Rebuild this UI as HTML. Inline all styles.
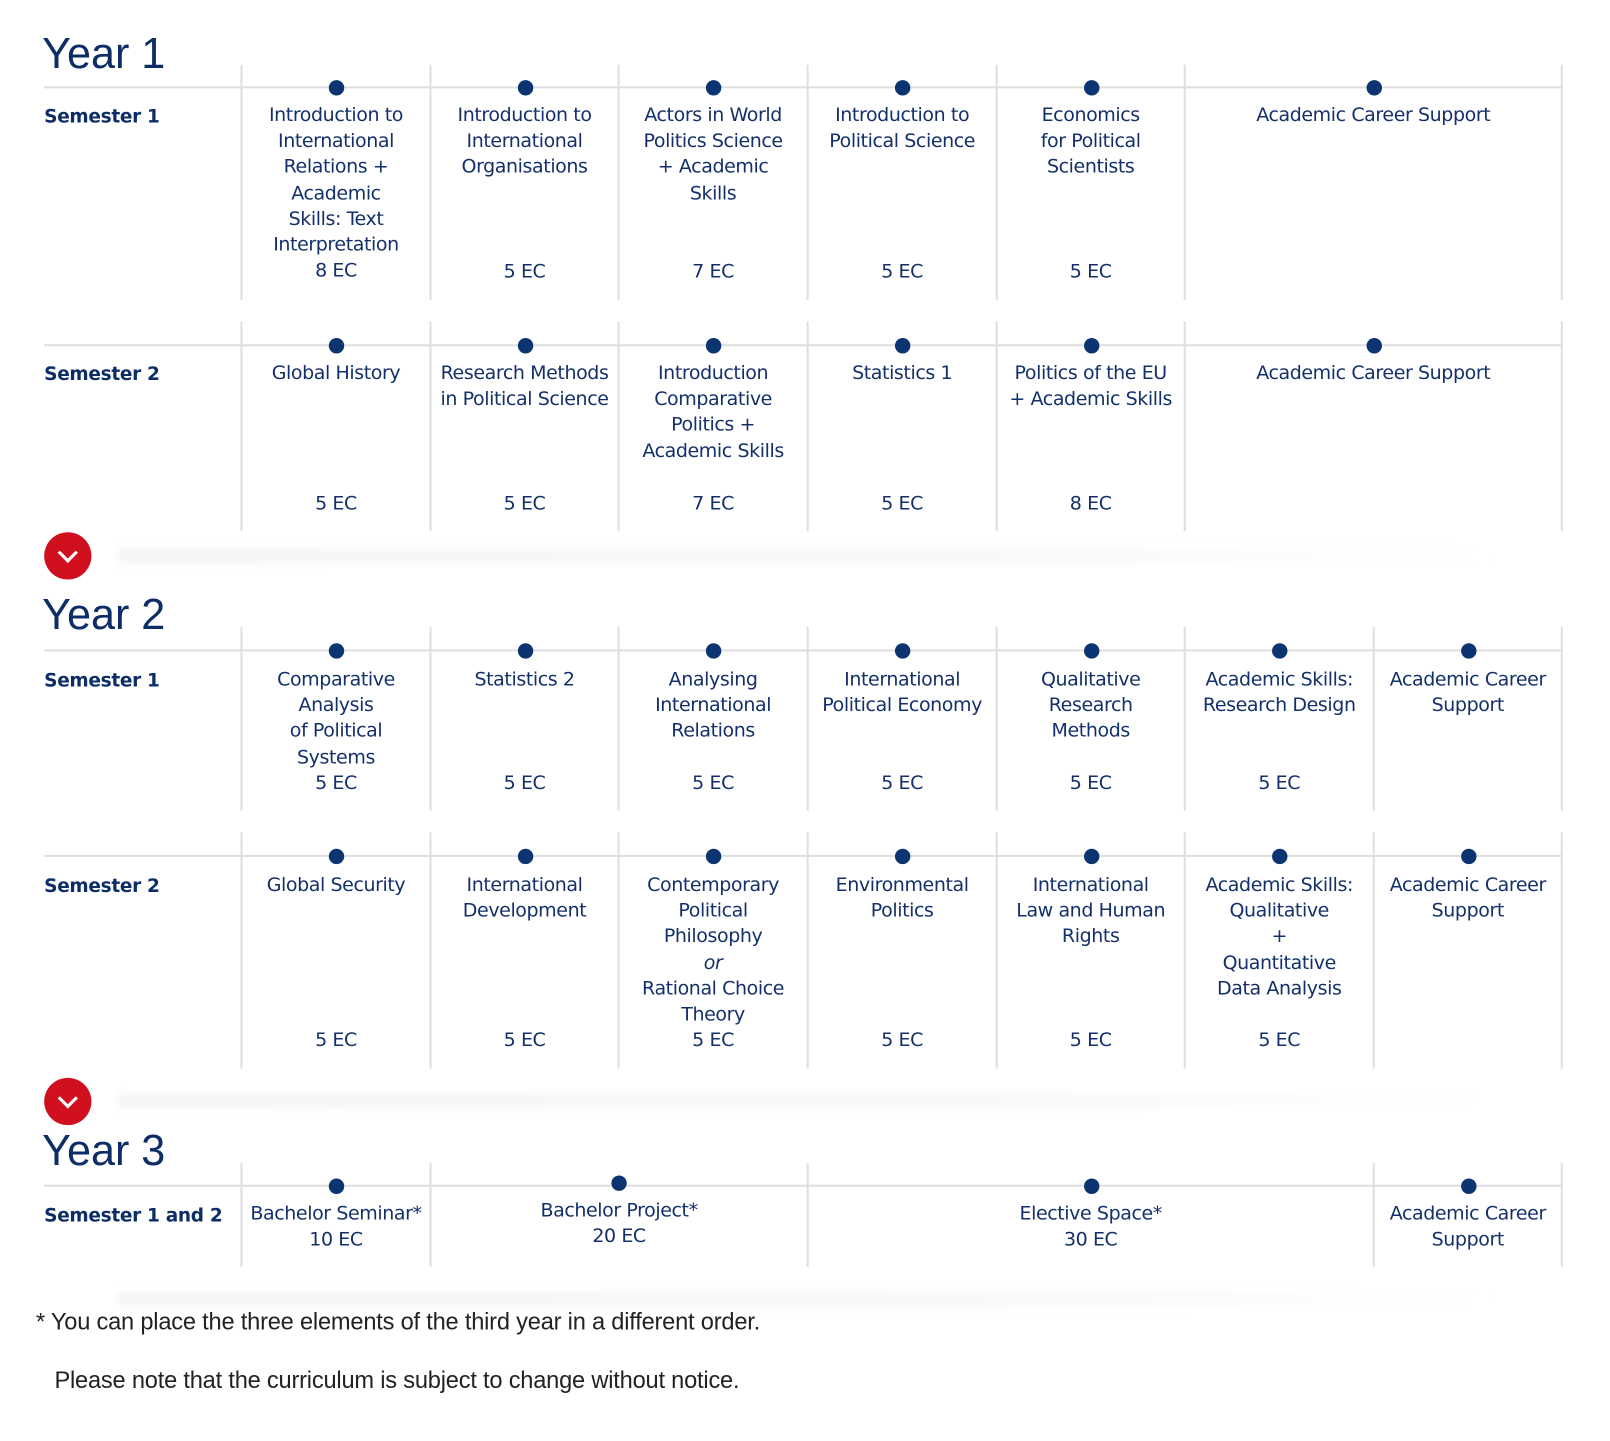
<!DOCTYPE html>
<html><head><meta charset="utf-8"><style>
html,body{margin:0;padding:0;background:#fff;width:1610px;height:1441px;overflow:hidden}
#w{position:absolute;left:0;top:0;width:1567px;height:1402px;transform:scale(1.0275);transform-origin:0 0;font-family:"DejaVu Sans","Liberation Sans",sans-serif;color:#13306a}
.y{position:absolute;left:41px;font-size:42px;line-height:42px;color:#0d2d66;font-family:"Liberation Sans",sans-serif}
.s{position:absolute;left:43px;font-size:18px;font-weight:bold;color:#0d2d66;font-family:"DejaVu Sans",sans-serif;letter-spacing:-0.3px}
.h{position:absolute;left:43px;width:1477px;height:2px;background:#dfdfdf}
.v{position:absolute;width:2px;background:#dfdfdf}
.d{position:absolute;width:15px;height:15px;border-radius:50%;background:#0b3470;margin:-7px 0 0 -7px}
.c{position:absolute;text-align:center;font-size:18.5px;line-height:25.2px;letter-spacing:-0.4px;transform:translateY(-11px)}
.sh{position:absolute;left:115px;width:1340px;height:14px;background:linear-gradient(90deg,#f5f5f5,#f8f8f8 60%,#fff);filter:blur(3px)}
.r{position:absolute;left:43px;width:46px;height:46px;border-radius:50%;background:#d0101e}
.r:after{content:"";position:absolute;left:16px;top:13px;width:11px;height:11px;border-right:3px solid #fff;border-bottom:3px solid #fff;transform:rotate(45deg)}
.f{position:absolute;font-size:23px;color:#222;font-family:"Liberation Sans",sans-serif;letter-spacing:-0.2px}
</style></head><body><div id="w">

<div class="y" style="top:31px">Year 1</div>
<div class="s" style="top:103px">Semester 1</div>
<div class="h" style="top:84px"></div>
<div class="v" style="left:234px;top:63px;height:229px"></div><div class="v" style="left:418px;top:63px;height:229px"></div><div class="v" style="left:601px;top:63px;height:229px"></div><div class="v" style="left:785px;top:63px;height:229px"></div><div class="v" style="left:969px;top:63px;height:229px"></div><div class="v" style="left:1152px;top:63px;height:229px"></div><div class="v" style="left:1519px;top:63px;height:229px"></div>
<i class="d" style="left:327px;top:85px"></i><i class="d" style="left:511px;top:85px"></i><i class="d" style="left:694px;top:85px"></i><i class="d" style="left:878px;top:85px"></i><i class="d" style="left:1062px;top:85px"></i><i class="d" style="left:1337px;top:85px"></i>
<div class="c" style="left:236px;width:182px;top:111px">Introduction to<br>International<br>Relations +<br>Academic<br>Skills: Text<br>Interpretation<br>8 EC</div>
<div class="c" style="left:420px;width:181px;top:111px">Introduction to<br>International<br>Organisations</div>
<div class="c" style="left:603px;width:182px;top:111px">Actors in World<br>Politics Science<br>+ Academic<br>Skills</div>
<div class="c" style="left:787px;width:182px;top:111px">Introduction to<br>Political Science</div>
<div class="c" style="left:971px;width:181px;top:111px">Economics<br>for Political<br>Scientists</div>
<div class="c" style="left:1154px;width:365px;top:111px">Academic Career Support</div>
<div class="c" style="left:420px;width:181px;top:263px">5 EC</div><div class="c" style="left:603px;width:182px;top:263px">7 EC</div><div class="c" style="left:787px;width:182px;top:263px">5 EC</div><div class="c" style="left:971px;width:181px;top:263px">5 EC</div>

<div class="s" style="top:354px">Semester 2</div>
<div class="h" style="top:335px"></div>
<div class="v" style="left:234px;top:313px;height:204px"></div><div class="v" style="left:418px;top:313px;height:204px"></div><div class="v" style="left:601px;top:313px;height:204px"></div><div class="v" style="left:785px;top:313px;height:204px"></div><div class="v" style="left:969px;top:313px;height:204px"></div><div class="v" style="left:1152px;top:313px;height:204px"></div><div class="v" style="left:1519px;top:313px;height:204px"></div>
<i class="d" style="left:327px;top:336px"></i><i class="d" style="left:511px;top:336px"></i><i class="d" style="left:694px;top:336px"></i><i class="d" style="left:878px;top:336px"></i><i class="d" style="left:1062px;top:336px"></i><i class="d" style="left:1337px;top:336px"></i>
<div class="c" style="left:236px;width:182px;top:362px">Global History</div>
<div class="c" style="left:420px;width:181px;top:362px">Research Methods<br>in Political Science</div>
<div class="c" style="left:603px;width:182px;top:362px">Introduction<br>Comparative<br>Politics +<br>Academic Skills</div>
<div class="c" style="left:787px;width:182px;top:362px">Statistics 1</div>
<div class="c" style="left:971px;width:181px;top:362px">Politics of the EU<br>+ Academic Skills</div>
<div class="c" style="left:1154px;width:365px;top:362px">Academic Career Support</div>
<div class="c" style="left:236px;width:182px;top:489px">5 EC</div><div class="c" style="left:420px;width:181px;top:489px">5 EC</div><div class="c" style="left:603px;width:182px;top:489px">7 EC</div><div class="c" style="left:787px;width:182px;top:489px">5 EC</div><div class="c" style="left:971px;width:181px;top:489px">8 EC</div>

<div class="sh" style="top:534px"></div>
<div class="r" style="top:518px"></div>

<div class="y" style="top:577px">Year 2</div>
<div class="s" style="top:652px">Semester 1</div>
<div class="h" style="top:632px"></div>
<div class="v" style="left:234px;top:610px;height:179px"></div><div class="v" style="left:418px;top:610px;height:179px"></div><div class="v" style="left:601px;top:610px;height:179px"></div><div class="v" style="left:785px;top:610px;height:179px"></div><div class="v" style="left:969px;top:610px;height:179px"></div><div class="v" style="left:1152px;top:610px;height:179px"></div><div class="v" style="left:1336px;top:610px;height:179px"></div><div class="v" style="left:1519px;top:610px;height:179px"></div>
<i class="d" style="left:327px;top:633px"></i><i class="d" style="left:511px;top:633px"></i><i class="d" style="left:694px;top:633px"></i><i class="d" style="left:878px;top:633px"></i><i class="d" style="left:1062px;top:633px"></i><i class="d" style="left:1245px;top:633px"></i><i class="d" style="left:1429px;top:633px"></i>
<div class="c" style="left:236px;width:182px;top:660px">Comparative<br>Analysis<br>of Political<br>Systems<br>5 EC</div>
<div class="c" style="left:420px;width:181px;top:660px">Statistics 2</div>
<div class="c" style="left:603px;width:182px;top:660px">Analysing<br>International<br>Relations</div>
<div class="c" style="left:787px;width:182px;top:660px">International<br>Political Economy</div>
<div class="c" style="left:971px;width:181px;top:660px">Qualitative<br>Research<br>Methods</div>
<div class="c" style="left:1154px;width:182px;top:660px">Academic Skills:<br>Research Design</div>
<div class="c" style="left:1338px;width:181px;top:660px">Academic Career<br>Support</div>
<div class="c" style="left:420px;width:181px;top:761px">5 EC</div><div class="c" style="left:603px;width:182px;top:761px">5 EC</div><div class="c" style="left:787px;width:182px;top:761px">5 EC</div><div class="c" style="left:971px;width:181px;top:761px">5 EC</div><div class="c" style="left:1154px;width:182px;top:761px">5 EC</div>

<div class="s" style="top:852px">Semester 2</div>
<div class="h" style="top:832px"></div>
<div class="v" style="left:234px;top:810px;height:230px"></div><div class="v" style="left:418px;top:810px;height:230px"></div><div class="v" style="left:601px;top:810px;height:230px"></div><div class="v" style="left:785px;top:810px;height:230px"></div><div class="v" style="left:969px;top:810px;height:230px"></div><div class="v" style="left:1152px;top:810px;height:230px"></div><div class="v" style="left:1336px;top:810px;height:230px"></div><div class="v" style="left:1519px;top:810px;height:230px"></div>
<i class="d" style="left:327px;top:833px"></i><i class="d" style="left:511px;top:833px"></i><i class="d" style="left:694px;top:833px"></i><i class="d" style="left:878px;top:833px"></i><i class="d" style="left:1062px;top:833px"></i><i class="d" style="left:1245px;top:833px"></i><i class="d" style="left:1429px;top:833px"></i>
<div class="c" style="left:236px;width:182px;top:860px">Global Security</div>
<div class="c" style="left:420px;width:181px;top:860px">International<br>Development</div>
<div class="c" style="left:603px;width:182px;top:860px">Contemporary<br>Political<br>Philosophy<br><i>or</i><br>Rational Choice<br>Theory<br>5 EC</div>
<div class="c" style="left:787px;width:182px;top:860px">Environmental<br>Politics</div>
<div class="c" style="left:971px;width:181px;top:860px">International<br>Law and Human<br>Rights</div>
<div class="c" style="left:1154px;width:182px;top:860px">Academic Skills:<br>Qualitative<br>+<br>Quantitative<br>Data Analysis</div>
<div class="c" style="left:1338px;width:181px;top:860px">Academic Career<br>Support</div>
<div class="c" style="left:236px;width:182px;top:1011px">5 EC</div><div class="c" style="left:420px;width:181px;top:1011px">5 EC</div><div class="c" style="left:787px;width:182px;top:1011px">5 EC</div><div class="c" style="left:971px;width:181px;top:1011px">5 EC</div><div class="c" style="left:1154px;width:182px;top:1011px">5 EC</div>

<div class="sh" style="top:1064px"></div>
<div class="r" style="top:1049px"></div>

<div class="y" style="top:1099px">Year 3</div>
<div class="s" style="top:1173px">Semester 1 and 2</div>
<div class="h" style="top:1153px"></div>
<div class="v" style="left:234px;top:1132px;height:101px"></div><div class="v" style="left:418px;top:1132px;height:101px"></div><div class="v" style="left:785px;top:1132px;height:101px"></div><div class="v" style="left:1336px;top:1132px;height:101px"></div><div class="v" style="left:1519px;top:1132px;height:101px"></div>
<i class="d" style="left:327px;top:1154px"></i><i class="d" style="left:602px;top:1151px"></i><i class="d" style="left:1062px;top:1154px"></i><i class="d" style="left:1429px;top:1154px"></i>
<div class="c" style="left:236px;width:182px;top:1180px">Bachelor Seminar*<br>10 EC</div>
<div class="c" style="left:420px;width:365px;top:1177px">Bachelor Project*<br>20 EC</div>
<div class="c" style="left:787px;width:549px;top:1180px">Elective Space*<br>30 EC</div>
<div class="c" style="left:1338px;width:181px;top:1180px">Academic Career<br>Support</div>

<div class="sh" style="top:1257px"></div>
<div class="f" style="left:35px;top:1273px">* You can place the three elements of the third year in a different order.</div>
<div class="f" style="left:53px;top:1330px">Please note that the curriculum is subject to change without notice.</div>
</div></body></html>
